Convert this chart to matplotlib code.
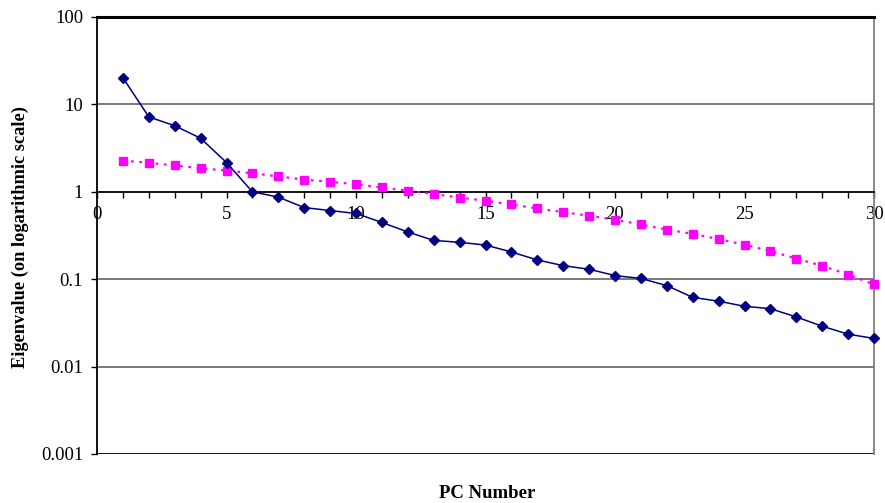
import matplotlib
matplotlib.use("Agg")
import matplotlib.pyplot as plt
import numpy as np

pc_number = list(range(1, 31))
eigen_actual = [20.2, 7.2, 5.7, 4.1, 2.16, 1.0, 0.87, 0.66, 0.61, 0.565,
                0.446, 0.347, 0.278, 0.264, 0.246, 0.205, 0.166, 0.143, 0.13, 0.11,
                0.102, 0.0845, 0.062, 0.056, 0.049, 0.046, 0.037, 0.029, 0.0235, 0.021]
eigen_random = [2.28, 2.14, 2.0, 1.86, 1.75, 1.63, 1.5, 1.38, 1.3, 1.22,
                1.12, 1.03, 0.94, 0.86, 0.79, 0.716, 0.645, 0.586, 0.532, 0.479,
                0.423, 0.369, 0.33, 0.288, 0.248, 0.21, 0.172, 0.142, 0.113, 0.087]
y_ticks = [0.001, 0.01, 0.1, 1, 10, 100]
y_tick_labels = ["0.001", "0.01", "0.1", "1", "10", "100"]
x_ticks = [0, 5, 10, 15, 20, 25, 30]

plt.rcParams['font.family'] = ['Liberation Serif', 'DejaVu Serif']

W, H = 885, 503
fig = plt.figure(figsize=(W / 100, H / 100), dpi=100)
left, right, top, bottom = 97, 874, 17, 454
ax = fig.add_axes([left / W, 1 - bottom / H, (right - left) / W, (bottom - top) / H])

ax.set_yscale('log')
ax.set_ylim(0.001, 100)
ax.set_xlim(0, 30)

# gridlines
for v in [0.01, 0.1, 10]:
    ax.axhline(v, color='#6e6e6e', lw=1.3, zorder=1)
ax.axhline(0.001, color='black', lw=1.3, zorder=1)

ax.plot(pc_number, eigen_actual, color='#000080', lw=1.1, marker='D',
        markersize=5, zorder=4, clip_on=False)
ax.plot(pc_number, eigen_random, color='#FF00FF', lw=1.6, linestyle=(0, (1.2, 2.5)),
        marker='s', markersize=5.6, zorder=3, clip_on=False)

# spines
ax.spines['bottom'].set_position(('data', 1))
ax.spines['bottom'].set_color('black')
ax.spines['bottom'].set_linewidth(1.3)
ax.spines['left'].set_color('black')
ax.spines['left'].set_linewidth(1.3)
ax.spines['top'].set_color('black')
ax.spines['top'].set_linewidth(2.2)
ax.spines['right'].set_color('#808080')
ax.spines['right'].set_linewidth(1.3)

ax.set_yticks(y_ticks)
ax.set_yticklabels(y_tick_labels)
ax.yaxis.set_minor_locator(matplotlib.ticker.NullLocator())
ax.set_xticks(x_ticks)
ax.set_xticks(pc_number, minor=True)
ax.tick_params(axis='y', direction='out', length=4, width=1, labelsize=13.5, pad=6)
ax.tick_params(axis='x', which='both', direction='out', length=4, width=1,
               labelsize=13.5, pad=6)

fig.text(20 / W, 1 - 237 / H, "Eigenvalue (on logarithmic scale)", rotation=90,
         ha='center', va='center', fontsize=13.2, fontweight='bold')
fig.text(487 / W, 1 - 493 / H, "PC Number", ha='center', va='center',
         fontsize=13.5, fontweight='bold')

fig.savefig("out.png", dpi=100)
